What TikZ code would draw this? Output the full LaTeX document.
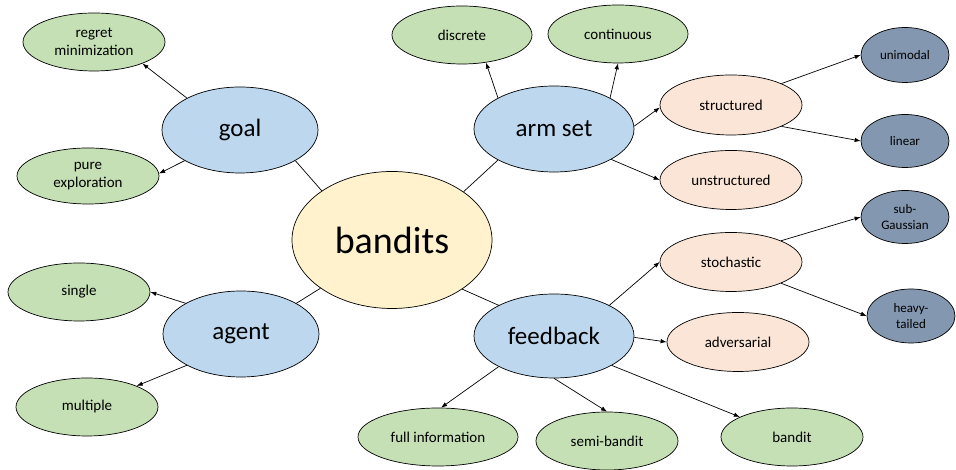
\documentclass[tikz,border=0pt]{standalone}
\usepackage{fontspec}
\setmainfont{Carlito}
\usetikzlibrary{shapes.geometric,arrows.meta}
\definecolor{rootfill}{HTML}{FFF2CC}
\definecolor{catfill}{HTML}{BDD7EE}
\definecolor{leaffill}{HTML}{C5E0B4}
\definecolor{subfill}{HTML}{FBE5D6}
\definecolor{deepfill}{HTML}{8497B0}
\tikzset{
  bub/.style={ellipse, draw=black, line width=0.7pt, inner sep=0pt, align=center},
  rootbub/.style={bub, fill=rootfill, minimum width=200pt, minimum height=137pt,
    font=\fontsize{38}{42}\selectfont},
  catbub/.style={bub, fill=catfill, minimum width=156pt, minimum height=86pt,
    font=\fontsize{25}{28}\selectfont},
  leafbub/.style={bub, fill=leaffill, minimum width=142pt, minimum height=58pt,
    font=\fontsize{15}{18}\selectfont},
  subbub/.style={bub, fill=subfill, minimum width=142pt, minimum height=59pt,
    font=\fontsize{15}{18}\selectfont},
  deepbub/.style={bub, fill=deepfill, minimum width=88pt, minimum height=53pt,
    font=\fontsize{13}{16}\selectfont},
  link/.style={line width=0.7pt},
  arr/.style={line width=0.7pt, -{Latex[length=6pt,width=4.5pt]}}
}
\begin{document}
\begin{tikzpicture}[x=1pt,y=1pt]
\useasboundingbox (0,0) rectangle (956,470);

% centre and the four categories
\node[rootbub] (bandits) at (392,230) {bandits};
\node[catbub] (goal) at (240,340) {goal};
\node[catbub, minimum width=160pt] (armset) at (554,341) {arm set};
\node[catbub] (agent) at (241,136) {agent};
\node[catbub, minimum width=160pt, minimum height=84pt] (feedback) at (554,134) {feedback};

% goal
\node[leafbub] (regret) at (94,428) {regret\\minimization};
\node[leafbub, minimum height=56pt] (pure) at (88,294) {pure\\exploration};

% arm set
\node[leafbub, minimum width=140pt] (discrete) at (462,435) {discrete};
\node[leafbub, minimum width=140pt] (continuous) at (618,436) {continuous};
\node[subbub, minimum height=60pt] (structured) at (731,365) {structured};
\node[subbub] (unstructured) at (731,290) {unstructured};
\node[deepbub, minimum height=55pt] (unimodal) at (905,415) {unimodal};
\node[deepbub] (linear) at (905,329) {linear};

% agent
\node[leafbub] (single) at (79,178) {single};
\node[leafbub] (multiple) at (87,63) {multiple};

% feedback
\node[subbub] (stochastic) at (731,208) {stochastic};
\node[subbub] (adversarial) at (738,128) {adversarial};
\node[deepbub] (subgauss) at (905,253) {sub-\\Gaussian};
\node[deepbub, minimum height=54pt] (heavy) at (911,154) {heavy-\\tailed};
\node[leafbub, minimum width=160pt] (fullinfo) at (438,33) {full information};
\node[leafbub] (semibandit) at (607,29) {semi-bandit};
\node[leafbub] (banditfb) at (792,33) {bandit};

% plain links from the centre
\draw[link] (bandits.145) -- (goal.-29);
\draw[link] (bandits.34) -- (armset.209);
\draw[link] (bandits.214) -- (agent.29);
\draw[link] (bandits.-35) -- (feedback.151);

% goal branches
\draw[arr] (goal.149) -- (regret.-24);
\draw[arr] (goal.209) -- (pure.2);

% arm set branches
\draw[arr] (armset.151) -- (discrete.-49);
\draw[arr] (armset.29) -- (continuous.-90);
\draw[arr] (armset.2) -- (structured.182);
\draw[arr] (armset.-28) -- (unstructured.180);
\draw[arr] (structured.23) -- (unimodal.180);
\draw[arr] (structured.-23) -- (linear.180);

% agent branches
\draw[arr] (agent.151) -- (single.0);
\draw[arr] (agent.210) -- (multiple.23);

% feedback branches
\draw[arr] (feedback.29) -- (stochastic.180);
\draw[arr] (feedback.-1) -- (adversarial.180);
\draw[arr] (feedback.209) -- (fullinfo.84);
\draw[arr] (feedback.-90) -- (semibandit.90);
\draw[arr] (feedback.-27) -- (banditfb.159);
\draw[arr] (stochastic.23) -- (subgauss.180);
\draw[arr] (stochastic.-23) -- (heavy.180);
\end{tikzpicture}
\end{document}
